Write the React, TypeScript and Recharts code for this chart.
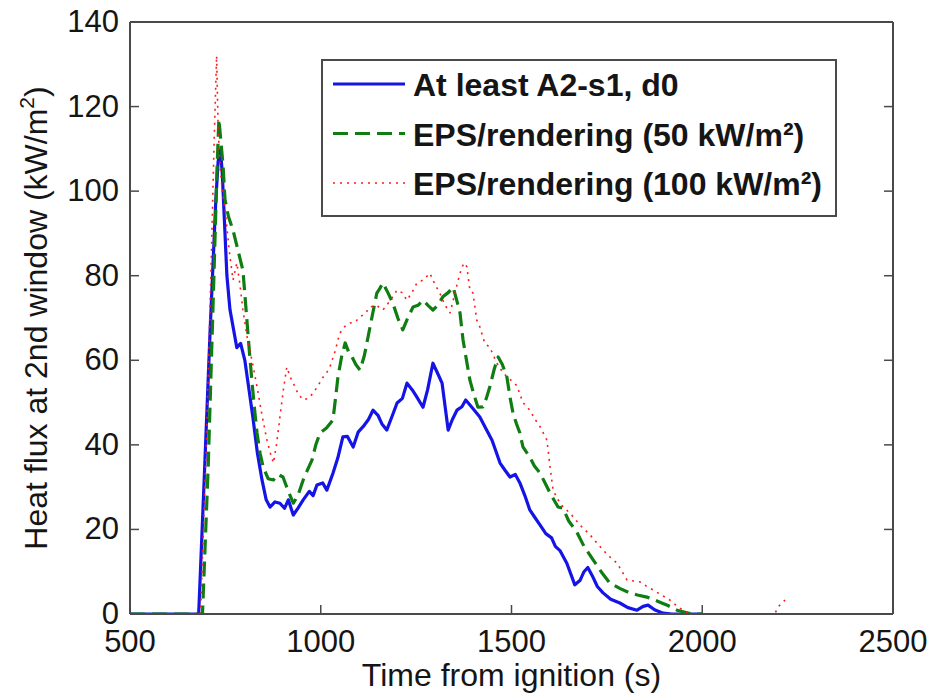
import { Legend, Line, LineChart, XAxis, YAxis } from "recharts"

const FONT = '"Liberation Sans", Arial, Helvetica, sans-serif'
const AXIS = "#4a4a4a"
const INK = "#151515"

const xTicks = [500, 1000, 1500, 2000, 2500]
const yTicks = [0, 20, 40, 60, 80, 100, 120, 140]

// At least A2-s1, d0
const a2Time = [
  500, 680, 695, 710, 725, 731, 737, 742, 748, 754, 762, 770, 780, 790, 801, 812, 822, 834, 846, 857, 867, 880,
  893, 905, 915, 928, 940, 954, 970, 980, 990, 1005, 1016, 1032, 1045, 1058, 1070, 1085, 1098, 1111, 1125, 1137,
  1150, 1160, 1173, 1188, 1200, 1214, 1226, 1240, 1252, 1268, 1280, 1294, 1306, 1318, 1334, 1345, 1357, 1370,
  1380, 1395, 1417, 1432, 1449, 1470, 1483, 1496, 1510, 1522, 1535, 1548, 1560, 1575, 1590, 1605, 1615, 1627,
  1645, 1666, 1680, 1690, 1700, 1712, 1725, 1740, 1760, 1784, 1805, 1829, 1845, 1858, 1875, 1897, 1920, 2000,
]
const a2Flux = [
  0, 0, 33, 67, 98, 107, 110, 104, 92, 80, 72, 68, 63, 64, 60, 53, 46.6, 38, 31.7, 27, 25.3, 26.5,
  26.2, 25, 27, 23.4, 25, 27, 29, 28, 30.5, 31, 29.3, 33.3, 37, 41.9, 42, 39.5, 43, 44.3, 46, 48.2,
  47, 45, 43.5, 47, 49.9, 51, 54.6, 53, 51.3, 48.9, 53, 59.3, 57, 54.6, 43.5, 46, 48.2, 49,
  50.6, 49, 46.6, 44, 41.1, 35.7, 34, 32.4, 33, 31, 28, 24.6, 23, 21, 19, 18, 16, 15,
  12, 6.9, 8, 10, 11, 9, 6.5, 5, 3.5, 2.6, 1.5, 0.9, 1.8, 2.1, 1, 0.2, 0, 0,
]

// EPS/rendering (50 kW/m2)
const eps50Time = [
  500, 690, 705, 720, 728, 733, 738, 744, 749, 758, 770, 783, 796, 806, 813, 820, 827, 833, 841, 849, 862, 876,
  888, 901, 915, 928, 940, 954, 965, 977, 987, 998, 1015, 1032, 1040, 1045, 1055, 1064, 1073, 1082, 1092, 1103,
  1114, 1124, 1136, 1147, 1155, 1163, 1176, 1189, 1202, 1215, 1228, 1242, 1255, 1268, 1281, 1294, 1307, 1320,
  1334, 1347, 1357, 1365, 1373, 1382, 1391, 1401, 1412, 1425, 1434, 1443, 1455, 1465, 1476, 1488, 1496, 1504,
  1513, 1522, 1530, 1548, 1560, 1575, 1588, 1601, 1622, 1635, 1650, 1671, 1690, 1714, 1735, 1758, 1785, 1810,
  1830, 1855, 1870, 1889, 1910, 1934, 1960, 1976, 2000,
]
const eps50Flux = [
  0, 0, 35, 80, 105, 117, 112, 106, 98, 94, 90.8, 86, 81.3, 70, 62, 54.6, 48, 42.8, 38, 34.8, 32, 31.7,
  33, 32.4, 29, 26.2, 28, 31.7, 34, 36.4, 40, 42.8, 44, 45.9, 52, 56, 61, 64.1, 62, 60.8, 59, 57.7,
  61, 65.5, 71, 75.9, 77, 78.3, 76, 73.5, 70, 67.2, 70, 72.6, 73, 74.2, 73, 71.9, 73, 75,
  76, 77.3, 74, 71.2, 64.8, 60, 55.3, 52, 48.9, 49, 51, 53.7, 58, 60.8, 59, 56, 51.3, 47.5,
  45, 42.8, 39.5, 37.1, 35, 33.3, 31, 28.6, 25.3, 25, 22, 19.4, 16, 12.8, 10, 7.3, 6, 5,
  4.5, 4, 3.5, 2.8, 2, 0.9, 0.3, 0, 0,
]

// EPS/rendering (100 kW/m2)
const eps100Time = [
  500, 685, 700, 712, 720, 727, 731, 736, 742, 750, 760, 770, 780, 788, 796, 806, 815, 824, 833, 846, 859, 868,
  876, 884, 893, 902, 911, 920, 928, 941, 954, 967, 980, 993, 1006, 1015, 1024, 1037, 1050, 1063, 1077, 1090,
  1103, 1116, 1129, 1146, 1163, 1181, 1200, 1213, 1226, 1239, 1252, 1269, 1286, 1299, 1312, 1326, 1339, 1352,
  1365, 1375, 1383, 1391, 1399, 1409, 1417, 1430, 1443, 1462, 1478, 1496, 1514, 1530, 1548, 1562, 1575, 1593,
  1601, 1609, 1622, 1635, 1653, 1680, 1706, 1722, 1740, 1758, 1777, 1790, 1803, 1820, 1837, 1855, 1871, 1893,
  1915, 1932, 1949, 1970, 2190, 2199, 2217,
]
const eps100Flux = [
  0, 0, 40, 80, 110, 132, 115, 106, 100, 95, 86, 79, 83, 78, 71.9, 66, 62, 58, 53.7, 47, 41.1, 38,
  35.7, 40, 46.6, 53, 58.4, 56, 54.6, 52, 50.6, 51, 52.2, 54, 56, 57, 58.4, 62, 66.4, 68, 68.8, 69,
  70.3, 71, 72.6, 73, 71.9, 74, 76.6, 76, 74.2, 76, 78.3, 79, 80.6, 78, 75.9, 73, 71.2, 76,
  80.6, 83, 82.1, 76.6, 75.9, 69.5, 67.9, 64, 63.1, 59.3, 57, 55.5, 54, 50, 48.2, 46, 44.3, 41.1,
  34.8, 29.3, 27, 25.3, 23.9, 21, 18.7, 17, 15.1, 13.5, 12, 10, 8, 7.8, 7.6, 6.5, 5.7, 4.5,
  3.3, 2, 0.9, 0, 0, 1.7, 3.3,
]

const toPoints = (time: number[], flux: number[]) => time.map((t, i) => ({ t, v: flux[i] }))

const series = [
  { key: "a2", name: "At least A2-s1, d0", color: "#1414e6", width: 3.2, dash: undefined, data: toPoints(a2Time, a2Flux) },
  { key: "eps50", name: "EPS/rendering (50 kW/m²)", color: "#0f7d12", width: 3.2, dash: "15 7", data: toPoints(eps50Time, eps50Flux) },
  { key: "eps100", name: "EPS/rendering (100 kW/m²)", color: "#ff1a1a", width: 1.6, dash: "2 5", data: toPoints(eps100Time, eps100Flux) },
]

const BottomTick = ({ x, y, payload }: any) => (
  <g>
    <line x1={x} y1={y} x2={x} y2={y - 9} stroke={AXIS} strokeWidth={1.5} />
    <text x={x} y={y + 38} textAnchor="middle" fontSize={31} fill={INK} fontFamily={FONT}>
      {payload.value}
    </text>
  </g>
)

const TopTick = ({ x, y }: any) => <line x1={x} y1={y} x2={x} y2={y + 9} stroke={AXIS} strokeWidth={1.5} />

const LeftTick = ({ x, y, payload }: any) => (
  <g>
    <line x1={x} y1={y} x2={x + 9} y2={y} stroke={AXIS} strokeWidth={1.5} />
    <text x={x - 11} y={y + 10} textAnchor="end" fontSize={31} fill={INK} fontFamily={FONT}>
      {payload.value}
    </text>
  </g>
)

const RightTick = ({ x, y }: any) => <line x1={x} y1={y} x2={x - 9} y2={y} stroke={AXIS} strokeWidth={1.5} />

const XLabel = ({ viewBox }: any) => (
  <text x={viewBox.x + viewBox.width / 2} y={viewBox.y + 72} textAnchor="middle" fontSize={32} fill={INK} fontFamily={FONT}>
    Time from ignition (s)
  </text>
)

const YLabel = ({ viewBox }: any) => {
  const cx = 47
  const cy = viewBox.y + viewBox.height / 2
  return (
    <text x={cx} y={cy} transform={`rotate(-90 ${cx} ${cy})`} textAnchor="middle" fontSize={32} fill={INK} fontFamily={FONT}>
      Heat flux at 2nd window (kW/m
      <tspan dy={-13} fontSize={21}>2</tspan>
      <tspan dy={13}>)</tspan>
    </text>
  )
}

const LegendBox = () => (
  <svg width={516} height={158} style={{ display: "block" }}>
    <rect x={1} y={1} width={514} height={156} fill="#fff" stroke={AXIS} strokeWidth={2} />
    {series.map((s, i) => {
      const ly = 25 + i * 49.5
      return (
        <g key={s.key}>
          <line x1={12} y1={ly} x2={84} y2={ly} stroke={s.color} strokeWidth={s.width} strokeDasharray={s.dash} />
          <text x={92} y={ly + 12} fontSize={32} fontWeight="bold" fill={INK} fontFamily={FONT}>
            {s.name}
          </text>
        </g>
      )
    })}
  </svg>
)

export default function App() {
  return (
    <div style={{ position: "absolute", left: 0, top: 0, background: "#fff" }}>
      <LineChart width={930} height={698} margin={{ top: 0, right: 0, bottom: 0, left: 0 }}>
        <XAxis
          xAxisId={0}
          dataKey="t"
          type="number"
          domain={[500, 2500]}
          ticks={xTicks}
          interval={0}
          allowDataOverflow
          height={84}
          tickSize={0}
          tickMargin={0}
          tickLine={false}
          tick={BottomTick}
          axisLine={{ stroke: AXIS, strokeWidth: 2 }}
          label={{ content: XLabel }}
        />
        <XAxis
          xAxisId="top"
          orientation="top"
          type="number"
          domain={[500, 2500]}
          ticks={xTicks}
          interval={0}
          allowDataOverflow
          height={22}
          tickSize={0}
          tickMargin={0}
          tickLine={false}
          tick={TopTick}
          axisLine={{ stroke: AXIS, strokeWidth: 2 }}
        />
        <YAxis
          yAxisId={0}
          type="number"
          domain={[0, 140]}
          ticks={yTicks}
          interval={0}
          allowDataOverflow
          width={130}
          tickSize={0}
          tickMargin={0}
          tickLine={false}
          tick={LeftTick}
          axisLine={{ stroke: AXIS, strokeWidth: 2 }}
          label={{ content: YLabel }}
        />
        <YAxis
          yAxisId="right"
          orientation="right"
          type="number"
          domain={[0, 140]}
          ticks={yTicks}
          interval={0}
          allowDataOverflow
          width={37}
          tickSize={0}
          tickMargin={0}
          tickLine={false}
          tick={RightTick}
          axisLine={{ stroke: AXIS, strokeWidth: 2 }}
        />
        {series.map((s) => (
          <Line
            key={s.key}
            data={s.data}
            dataKey="v"
            name={s.name}
            type="linear"
            stroke={s.color}
            strokeWidth={s.width}
            strokeDasharray={s.dash}
            strokeLinejoin="round"
            dot={false}
            activeDot={false}
            isAnimationActive={false}
          />
        ))}
        <Legend
          layout="vertical"
          align="center"
          verticalAlign="middle"
          content={LegendBox}
          wrapperStyle={{ left: 321, top: 59, width: 516, height: 158 }}
        />
      </LineChart>
    </div>
  )
}
